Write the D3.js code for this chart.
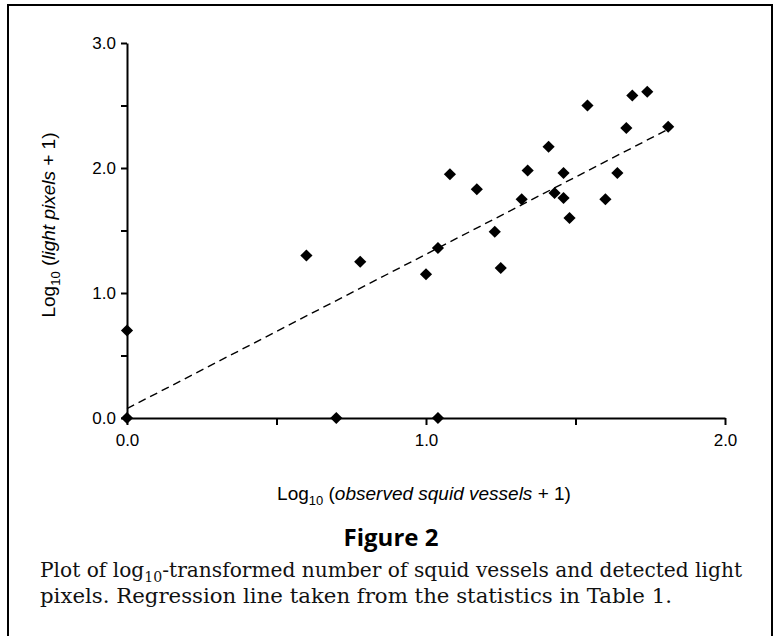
<!DOCTYPE html>
<html>
<head>
<meta charset="utf-8">
<script src="https://cdn.jsdelivr.net/npm/d3@7"></script>
<style>
  body { margin: 0; background: #fff; }
  svg { display: block; }
  .tick text { font-family: "Liberation Sans", Arial, sans-serif; font-size: 17px; fill: #000; }
  .axis-title { font-family: "Liberation Sans", Arial, sans-serif; font-size: 19px; fill: #000; }
  .fig-title { font-family: "Open Sans", sans-serif; font-weight: 700; font-size: 24px; fill: #000; }
  .caption { font-family: "DejaVu Serif", serif; font-size: 20px; fill: #111; }
</style>
</head>
<body>
<div id="chart"></div>
<script>
!(function () {
  'use strict';

  // data: log10(vessels + 1) vs log10(light pixels + 1)
  const vessels = [0.00, 0.00, 0.70, 1.04, 0.60, 0.78, 1.00, 1.04, 1.08, 1.17, 1.23, 1.25, 1.32,
                   1.34, 1.41, 1.43, 1.46, 1.46, 1.48, 1.54, 1.60, 1.64, 1.67, 1.69, 1.74, 1.81];
  const pixels = [0.70, 0.00, 0.00, 0.00, 1.30, 1.25, 1.15, 1.36, 1.95, 1.83, 1.49, 1.20, 1.75,
                  1.98, 2.17, 1.80, 1.96, 1.76, 1.60, 2.50, 1.75, 1.96, 2.32, 2.58, 2.61, 2.33];

  // regression line (from Table 1)
  const fitX = [0, 1.81];
  const fitIntercept = 0.075;
  const fitSlope = 1.235;

  const xTicks = [0, 0.5, 1, 1.5, 2];
  const yTicks = [0, 0.5, 1, 1.5, 2, 2.5, 3];
  const tickFormat = d3.format('.1f');

  const width = 775, height = 636;
  const plot = { left: 127, right: 725, top: 43, bottom: 418 };

  const svg = d3.select('#chart').append('svg')
    .attr('width', width)
    .attr('height', height);

  // outer frame (bottom edge runs off the page)
  svg.append('path')
    .attr('d', 'M8,640 L8,5 L772,5 L772,640')
    .attr('fill', 'none')
    .attr('stroke', '#000')
    .attr('stroke-width', 2);

  const x = d3.scaleLinear().domain([0, 2]).range([plot.left, plot.right]);
  const y = d3.scaleLinear().domain([0, 3]).range([plot.bottom, plot.top]);

  // axes
  const xAxis = svg.append('g')
    .attr('transform', 'translate(0,' + plot.bottom + ')')
    .call(d3.axisBottom(x)
      .tickValues(xTicks)
      .tickSizeInner(7)
      .tickSizeOuter(0)
      .tickPadding(9)
      .tickFormat(function (d) { return d % 1 === 0 ? tickFormat(d) : ''; }));

  const yAxis = svg.append('g')
    .attr('transform', 'translate(' + plot.left + ',0)')
    .call(d3.axisLeft(y)
      .tickValues(yTicks)
      .tickSizeInner(6)
      .tickSizeOuter(0)
      .tickPadding(5)
      .tickFormat(function (d) { return d % 1 === 0 ? tickFormat(d) : ''; }));

  [xAxis, yAxis].forEach(function (g) {
    g.select('.domain').attr('stroke', '#000').attr('stroke-width', 2);
    g.selectAll('.tick line').attr('stroke', '#000').attr('stroke-width', 2);
  });

  // regression line
  svg.append('line')
    .attr('x1', x(fitX[0]))
    .attr('y1', y(fitIntercept + fitSlope * fitX[0]))
    .attr('x2', x(fitX[1]))
    .attr('y2', y(fitIntercept + fitSlope * fitX[1]))
    .attr('stroke', '#000')
    .attr('stroke-width', 1.4)
    .attr('stroke-dasharray', '8,5');

  // points (diamonds)
  const diamond = d3.symbol().type(d3.symbolSquare).size(74);
  svg.append('g')
    .selectAll('path')
    .data(vessels.map(function (v, i) { return [v, pixels[i]]; }))
    .enter()
    .append('path')
    .attr('d', diamond)
    .attr('fill', '#000')
    .attr('transform', function (d) {
      return 'translate(' + x(d[0]) + ',' + y(d[1]) + ') rotate(45)';
    });

  // axis titles
  const xt = svg.append('text')
    .attr('class', 'axis-title')
    .attr('x', 424)
    .attr('y', 500)
    .attr('text-anchor', 'middle');
  xt.append('tspan').text('Log');
  xt.append('tspan').attr('font-size', 13).attr('dy', 5).text('10');
  xt.append('tspan').attr('dy', -5).text(' (');
  xt.append('tspan').attr('font-style', 'italic').text('observed squid vessels');
  xt.append('tspan').text(' + 1)');

  const yt = svg.append('text')
    .attr('class', 'axis-title')
    .attr('transform', 'translate(55,225) rotate(-90)')
    .attr('text-anchor', 'middle');
  yt.append('tspan').text('Log');
  yt.append('tspan').attr('font-size', 13).attr('dy', 5).text('10');
  yt.append('tspan').attr('dy', -5).text(' (');
  yt.append('tspan').attr('font-style', 'italic').text('light pixels');
  yt.append('tspan').text(' + 1)');

  // figure caption
  svg.append('text')
    .attr('class', 'fig-title')
    .attr('x', 391)
    .attr('y', 546)
    .attr('text-anchor', 'middle')
    .text('Figure 2');

  const c1 = svg.append('text')
    .attr('class', 'caption')
    .attr('x', 40)
    .attr('y', 577)
    .attr('textLength', 702)
    .attr('lengthAdjust', 'spacingAndGlyphs');
  c1.append('tspan').text('Plot of log');
  c1.append('tspan').attr('font-size', 14).attr('dy', 5).text('10');
  c1.append('tspan').attr('dy', -5).text('-transformed number of squid vessels and detected light');

  svg.append('text')
    .attr('class', 'caption')
    .attr('x', 40)
    .attr('y', 603)
    .attr('textLength', 632)
    .attr('lengthAdjust', 'spacingAndGlyphs')
    .text('pixels. Regression line taken from the statistics in Table 1.');
}());
</script>
</body>
</html>
